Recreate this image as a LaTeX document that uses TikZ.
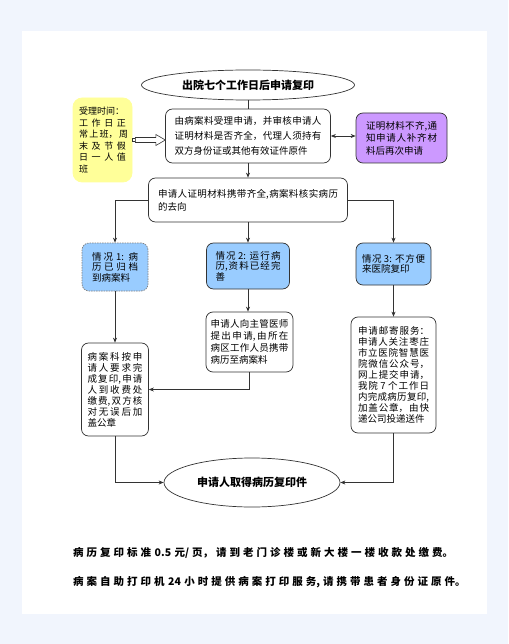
\documentclass[tikz,border=0pt]{standalone}
\usepackage{fontspec}
\setmainfont{Noto Sans CJK SC}
\usetikzlibrary{arrows.meta,shapes.geometric}
\XeTeXlinebreaklocale "zh"
\XeTeXlinebreakskip=0pt plus 3pt
\tolerance=2000
\definecolor{cpink}{HTML}{333333}
\definecolor{cpyellow}{HTML}{FFFF99}
\definecolor{cppurple}{HTML}{CC99FF}
\definecolor{cpblue}{HTML}{99CCFF}
\definecolor{cppage}{HTML}{F1F5FD}
\newcommand\jline[1]{\makebox[\linewidth][s]{#1}}
\newcommand\cpnotefont{\bfseries\fontsize{10.5}{12}\selectfont\XeTeXlinebreakskip=3pt\relax}
\tikzset{
  cp node/.style={draw=cpink, line width=0.7pt, rounded corners=7pt, fill=white,
    align=justify, inner sep=3pt, font=\fontsize{9.5}{#1}\selectfont},
  cp node/.default=11.5,
  cp case/.style={cp node=#1, fill=cpblue},
  cp case/.default=10.5,
  cp oval/.style={ellipse, draw=cpink, line width=0.7pt, fill=white, inner sep=0pt,
    font=\bfseries\fontsize{11}{13}\selectfont},
  cp line/.style={draw=cpink, line width=0.7pt},
  cp arrow/.style={cp line, -{Stealth[length=5pt,width=4pt]}},
  cp both/.style={cp line, {Stealth[length=5pt,width=4pt]}-{Stealth[length=5pt,width=4pt]}},
  cp hollow/.style={draw=cpink, line width=0.6pt, fill=white, line join=miter},
  cp note/.style={font=\cpnotefont, text width=420pt, align=left, inner sep=0pt, anchor=west}
}

\begin{document}
\begin{tikzpicture}[x=1pt, y=-1pt]
  \fill[cppage] (0,0) rectangle (508,644);
  \fill[white] (22,31) rectangle (487,614);

  \node[cp oval, minimum width=213pt, minimum height=30pt] (title) at (248,85) {出院七个工作日后申请复印};
  \node[cp node=15, text width=147pt, minimum width=165pt, minimum height=54pt] (accept) at (248,136)
    {由病案料受理申请，并审核申请人证明材料是否齐全，代理人须持有双方身份证或其他有效证件原件};
  \node[cp node, font=\fontsize{9}{11.5}\selectfont, draw=cpyellow, fill=cpyellow, rounded corners=9pt,
    text width=47pt, minimum width=59pt, minimum height=84pt] (hours) at (102.5,140)
    {\mbox{受理时间：}\\\jline{工 作 日 正}\\\jline{常 上 班， 周}\\\jline{末 及 节 假}\\\jline{日 一 人 值}\\班};
  \node[cp node=12.5, fill=cppurple, text width=71pt, minimum width=91pt, minimum height=50pt] (lack) at (401.5,138)
    {证明材料不齐,通知申请人补齐材料后再次申请};
  \node[cp node=13, text width=180pt, minimum width=199pt, minimum height=44pt] (check) at (248,200)
    {申请人证明材料携带齐全,病案料核实病历的去向};

  \node[cp case, draw=gray, dash pattern=on 1.5pt off 1pt, text width=46pt, minimum width=66pt, minimum height=48pt] (case1) at (115,267)
    {情况 1: 病历已归档到病案料};
  \node[cp case, text width=65pt, minimum width=83pt, minimum height=46pt] (case2) at (248,266)
    {情况 2: 运行病历,资料已经完善};
  \node[cp case, text width=63pt, minimum width=75pt, minimum height=42pt] (case3) at (393.5,264)
    {情况 3: 不方便来医院复印};

  \node[cp node=11, text width=55pt, minimum width=67pt, minimum height=93pt] (print) at (115,389.5)
    {病案科按申请人要求完成复印,申请人到收费处缴费,双方核对无误后加盖公章};
  \node[cp node=12, text width=78pt, minimum width=87pt, minimum height=60pt] (doctor) at (249.5,342)
    {申请人向主管医师提出申请,由所在病区工作人员携带病历至病案料};
  \node[cp node=11, text width=71pt, minimum width=85pt, minimum height=116pt] (mail) at (393.5,375)
    {申请邮寄服务：申请人关注枣庄市立医院智慧医院微信公众号，网上提交申请，我院 7 个工作日内完成病历复印,加盖公章，由快递公司投递送件};
  \node[cp oval, minimum width=176pt, minimum height=49pt] (get) at (252,482.5) {申请人取得病历复印件};

  % hollow arrow from the time note
  \draw[cp hollow] (hours.east) ++(0,-1.5) rectangle ++(3,3);
  \draw[cp hollow] (hours.east) ++(3,-2.5) -- ++(20.5,0) -- ++(0,-3) -- ++(9.5,5.5)
    -- ++(-9.5,5.5) -- ++(0,-3) -- ++(-20.5,0) -- cycle;
  \draw[cp line] (title) -- (accept);
  \draw[cp both] (accept.east) -- (lack.west |- accept.east);
  \draw[cp arrow] (accept) -- (check);
  \draw[cp arrow] (check.west) -| (case1.north);
  \draw[cp arrow] (check) -- (case2);
  \draw[cp arrow] (check.east) -| (case3.north);
  \draw[cp arrow] (case1) -- (print);
  \draw[cp arrow] (case2.south) -- (case2.south |- doctor.north);
  \draw[cp arrow] (doctor.south) |- (print.east);
  \draw[cp arrow] (case3) -- (mail);
  \draw[cp arrow] (print.south) |- (get.west);
  \draw[cp arrow] (mail.south) |- (get.east);

  \node[cp note] (fee) at (73,553) {病历复印标准 0.5 元/页，请到老门诊楼或新大楼一楼收款处缴费。};
  \node[cp note] (self) at (73,582) {病案自助打印机 24 小时提供病案打印服务,请携带患者身份证原件。};
\end{tikzpicture}
\end{document}
